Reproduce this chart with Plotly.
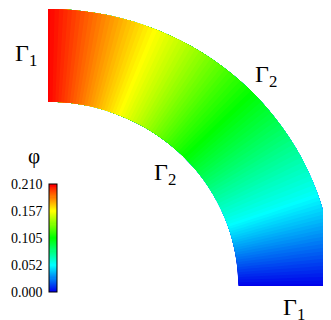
import numpy as np
import plotly.graph_objects as go

# phi read along the arc, angle measured from the lower Gamma_1 edge (deg)
theta_deg = [0, 10, 20, 30, 40, 50, 60, 70, 80, 90]
phi = [0.000, 0.027, 0.055, 0.075, 0.096, 0.117, 0.140, 0.162, 0.186, 0.210]
radii = [0.665, 0.75, 0.83, 0.915, 1.0]  # inner ... outer radius (outer = 1)

cbar_tickvals = [0.000, 0.0525, 0.105, 0.1575, 0.210]
cbar_ticktext = ["0.000", "0.052", "0.105", "0.157", "0.210"]

# page body keeps an 8px margin, so the figure is drawn 8px smaller and
# every reference pixel position is shifted by OFF
OFF = 8
W, H = 331 - OFF, 320 - OFF
# pixel placement (reference image) of the ring centre and scale (px per unit radius)
cx, cy, sx, sy = 48 - OFF, 286 - OFF, 286, 277

jet = [[0.0, "rgb(0,0,235)"], [0.25, "rgb(0,255,255)"], [0.5, "rgb(0,255,0)"],
       [0.75, "rgb(255,255,0)"], [1.0, "rgb(255,0,0)"]]

th = np.radians(theta_deg)
xg = [[r * np.cos(t) for t in th] for r in radii]
yg = [[r * np.sin(t) for t in th] for r in radii]
zg = [phi for _ in radii]

hidden_axis = dict(showgrid=False, showline=False, showticklabels="none",
                   startline=False, endline=False, minorgridcount=0,
                   gridcolor="rgba(0,0,0,0)", smoothing=1)

fig = go.Figure()
fig.add_trace(go.Carpet(a=theta_deg, b=radii, x=xg, y=yg, carpet="ring",
                        aaxis=hidden_axis, baxis=hidden_axis))

# colorbar geometry in reference pixels
cb_top, cb_bot = 184 - OFF, 292 - OFF
cb_len = cb_bot - cb_top
step = 0.0021
fig.add_trace(go.Contourcarpet(
    a=theta_deg, b=radii, z=zg, carpet="ring",
    autocontour=False,
    contours=dict(start=step / 2, end=0.21 - step / 2, size=step,
                  coloring="fill", showlines=False),
    line=dict(width=0),
    colorscale=jet, zmin=0, zmax=0.21,
    colorbar=dict(thickness=8, lenmode="pixels", len=cb_len,
                  x=(49 - OFF) / W, xanchor="left", xpad=0,
                  y=1 - (cb_top + cb_bot) / 2 / H, yanchor="middle", ypad=0,
                  outlinewidth=1, outlinecolor="black",
                  showticklabels=False, ticks=""),
))


def px2paper(px, py):
    return (px - OFF) / W, 1 - (py - OFF) / H


serif = "Liberation Serif, Times New Roman, serif"
ann = []
for v, t in zip(cbar_tickvals, cbar_ticktext):
    ypx = 292 - v / 0.21 * cb_len
    x, y = px2paper(45, ypx)
    ann.append(dict(x=x, y=y, xref="paper", yref="paper", text=t,
                    xanchor="right", yanchor="middle", showarrow=False,
                    font=dict(family=serif, size=14, color="black")))
x, y = px2paper(34, 156)
ann.append(dict(x=x, y=y, xref="paper", yref="paper", text="φ",
                xanchor="center", yanchor="middle", showarrow=False,
                font=dict(family=serif, size=21, color="black")))
for txt, px, py in [("Γ<sub>1</sub>", 26, 55), ("Γ<sub>2</sub>", 266, 76),
                    ("Γ<sub>2</sub>", 165, 174), ("Γ<sub>1</sub>", 294, 309)]:
    x, y = px2paper(px, py)
    ann.append(dict(x=x, y=y, xref="paper", yref="paper", text=txt,
                    xanchor="center", yanchor="middle", showarrow=False,
                    font=dict(family=serif, size=24, color="black")))

fig.update_layout(
    width=W, height=H, margin=dict(l=0, r=0, t=0, b=0, pad=0, autoexpand=False),
    paper_bgcolor="white", plot_bgcolor="white", showlegend=False,
    xaxis=dict(visible=False, range=[-cx / sx, (W - cx) / sx], fixedrange=True,
               domain=[0, 1]),
    yaxis=dict(visible=False, range=[-(H - cy) / sy, cy / sy], fixedrange=True,
               domain=[0, 1]),
    annotations=ann,
)

fig.write_html("out.html")
